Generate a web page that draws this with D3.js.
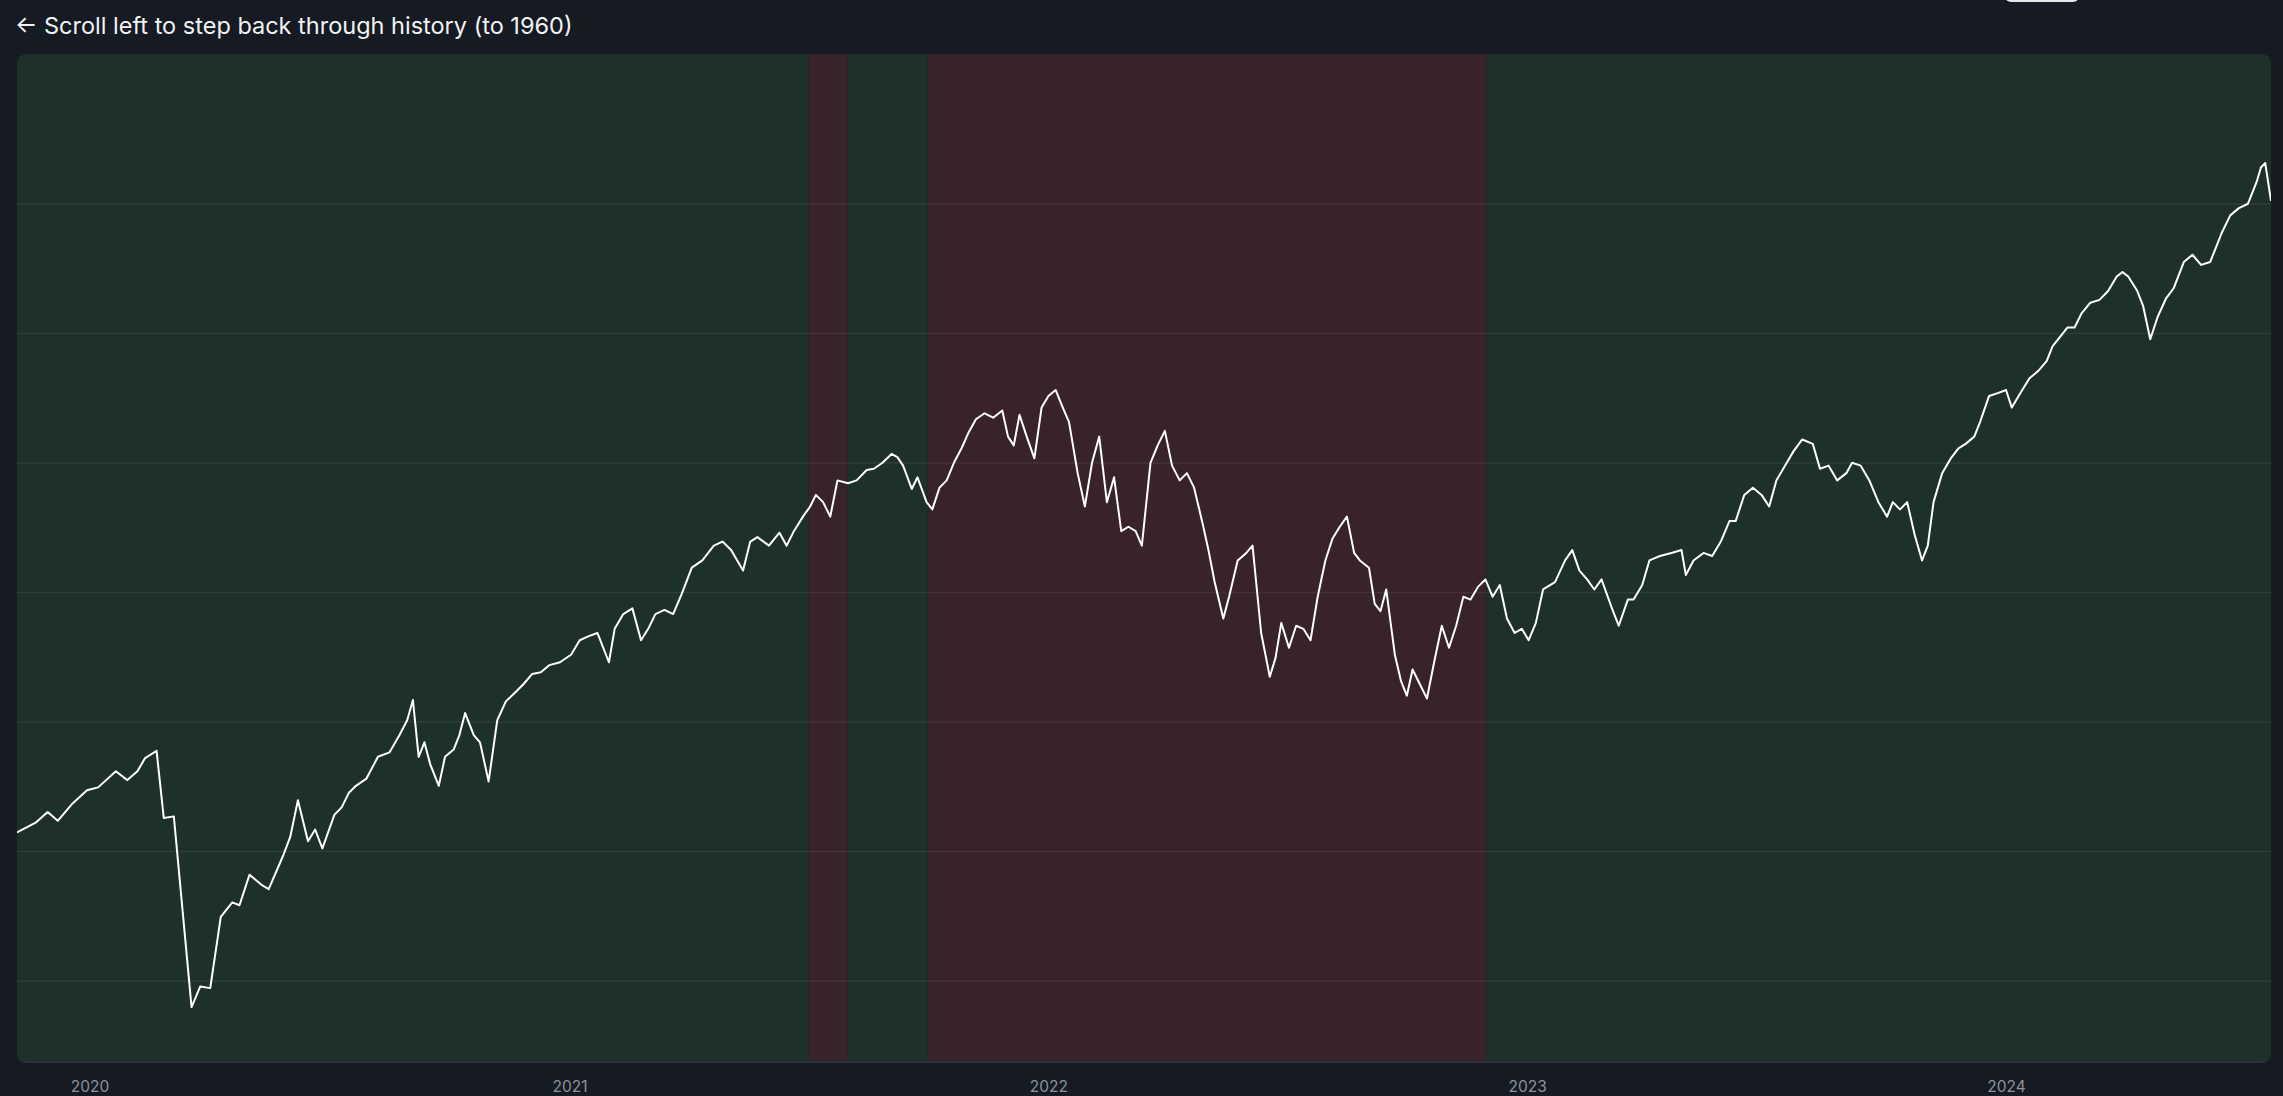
<!DOCTYPE html>
<html>
<head>
<meta charset="utf-8">
<script src="https://cdn.jsdelivr.net/npm/d3@7"></script>
<style>
  html, body { margin: 0; padding: 0; background: #161a22; overflow: hidden; }
  svg { display: block; }
</style>
</head>
<body>
<svg id="chart"></svg>
<script>
// decimal years and index closes
var years = [2019.848,2019.888,2019.912,2019.933,2019.964,2019.994,2020.018,2020.055,2020.079,2020.100,2020.116,2020.140,2020.155,2020.176,2020.213,2020.231,2020.252,2020.274,2020.298,2020.313,2020.334,2020.359,2020.374,2020.404,2020.419,2020.435,2020.456,2020.471,2020.486,2020.511,2020.526,2020.541,2020.556,2020.578,2020.602,2020.626,2020.647,2020.663,2020.675,2020.687,2020.699,2020.711,2020.729,2020.742,2020.760,2020.772,2020.784,2020.802,2020.815,2020.833,2020.851,2020.869,2020.891,2020.906,2020.924,2020.942,2020.960,2020.982,2021.003,2021.021,2021.040,2021.058,2021.082,2021.094,2021.112,2021.131,2021.149,2021.164,2021.179,2021.198,2021.216,2021.234,2021.255,2021.277,2021.301,2021.319,2021.337,2021.362,2021.377,2021.392,2021.416,2021.438,2021.453,2021.468,2021.489,2021.502,2021.514,2021.529,2021.544,2021.559,2021.581,2021.599,2021.620,2021.635,2021.653,2021.672,2021.684,2021.696,2021.714,2021.726,2021.745,2021.757,2021.772,2021.787,2021.802,2021.818,2021.833,2021.848,2021.866,2021.884,2021.903,2021.915,2021.927,2021.939,2021.954,2021.970,2021.985,2022.000,2022.015,2022.030,2022.043,2022.061,2022.076,2022.091,2022.106,2022.122,2022.137,2022.152,2022.167,2022.182,2022.195,2022.213,2022.228,2022.243,2022.258,2022.274,2022.289,2022.304,2022.322,2022.334,2022.347,2022.365,2022.377,2022.395,2022.413,2022.426,2022.444,2022.462,2022.474,2022.486,2022.502,2022.517,2022.532,2022.547,2022.562,2022.578,2022.593,2022.608,2022.623,2022.638,2022.650,2022.669,2022.681,2022.693,2022.705,2022.723,2022.736,2022.748,2022.760,2022.775,2022.790,2022.805,2022.821,2022.836,2022.851,2022.866,2022.881,2022.897,2022.912,2022.927,2022.942,2022.957,2022.973,2022.988,2023.003,2023.018,2023.033,2023.058,2023.079,2023.094,2023.109,2023.125,2023.140,2023.155,2023.179,2023.191,2023.210,2023.222,2023.240,2023.255,2023.277,2023.301,2023.322,2023.331,2023.347,2023.368,2023.386,2023.404,2023.422,2023.435,2023.453,2023.471,2023.489,2023.505,2023.520,2023.538,2023.556,2023.574,2023.596,2023.611,2023.629,2023.647,2023.666,2023.678,2023.696,2023.714,2023.733,2023.751,2023.763,2023.778,2023.793,2023.809,2023.824,2023.836,2023.848,2023.866,2023.884,2023.900,2023.915,2023.933,2023.945,2023.964,2023.982,2024.000,2024.012,2024.030,2024.049,2024.067,2024.085,2024.097,2024.109,2024.128,2024.143,2024.158,2024.176,2024.195,2024.213,2024.231,2024.243,2024.255,2024.274,2024.286,2024.301,2024.316,2024.334,2024.350,2024.371,2024.389,2024.407,2024.426,2024.438,2024.450,2024.468,2024.486,2024.505,2024.523,2024.532,2024.541,2024.553];
var closes = [2574,2613,2653,2619,2686,2737,2748,2810,2776,2810,2861,2889,2630,2636,1900,1979,1973,2248,2304,2293,2411,2372,2355,2484,2557,2698,2540,2585,2512,2642,2670,2726,2754,2782,2866,2883,2950,3007,3085,2866,2922,2838,2754,2866,2894,2950,3035,2950,2922,2771,3007,3080,3119,3147,3186,3192,3220,3231,3260,3316,3332,3344,3231,3360,3417,3439,3316,3360,3417,3433,3417,3495,3596,3624,3681,3697,3664,3585,3697,3714,3681,3731,3681,3737,3799,3832,3877,3849,3793,3933,3922,3933,3973,3978,4001,4035,4023,3990,3900,3945,3849,3821,3905,3933,4001,4057,4119,4169,4192,4175,4203,4102,4068,4186,4102,4018,4214,4259,4282,4214,4158,3961,3832,4001,4102,3849,3945,3737,3754,3737,3681,4001,4068,4124,3990,3933,3961,3905,3765,3664,3540,3400,3484,3624,3653,3681,3344,3175,3248,3383,3287,3372,3360,3316,3484,3624,3709,3754,3793,3653,3624,3596,3456,3428,3512,3260,3158,3102,3203,3147,3091,3231,3372,3287,3372,3484,3473,3523,3551,3484,3529,3400,3344,3360,3316,3383,3512,3540,3624,3664,3585,3551,3512,3551,3428,3372,3473,3473,3529,3624,3641,3653,3664,3568,3624,3653,3641,3697,3776,3776,3877,3905,3877,3832,3933,3990,4046,4091,4074,3978,3990,3933,3961,4001,3990,3933,3849,3793,3849,3821,3849,3720,3624,3681,3849,3961,4018,4057,4074,4102,4158,4259,4270,4282,4214,4270,4327,4355,4394,4450,4478,4523,4523,4579,4619,4630,4664,4720,4737,4720,4664,4607,4478,4562,4636,4675,4776,4804,4765,4776,4832,4888,4956,4984,5001,5085,5141,5158,5012];

// regime bands (green = risk-on, red = risk-off)
var bandStarts = ["2019-11-06","2021-07-02","2021-08-01","2021-10-01","2022-12-01"];
var bandEnds   = ["2021-07-02","2021-08-01","2021-10-01","2022-12-01","2024-07-22"];
var bandRegimes = ["on","off","on","off","on"];

var gridValues = [2000, 2500, 3000, 3500, 4000, 4500, 5000];
var tickYears = [2020, 2021, 2022, 2023, 2024];
var titleText = "\u2190 Scroll left to step back through history (to 1960)";

var W = 2283, H = 1096;
var plot = { left: 17, right: 2271, top: 54, bottom: 1063 };

function yearToDate(yr) {
  var y = Math.floor(yr);
  var start = new Date(y, 0, 1);
  return new Date(start.getTime() + (yr - y) * 365.25 * 864e5);
}

var parse = d3.timeParse("%Y-%m-%d");
var series = years.map(function(yr, i){ return { date: yearToDate(yr), value: closes[i] }; });
var bands = bandStarts.map(function(s, i){ return { start: parse(s), end: parse(bandEnds[i]), regime: bandRegimes[i] }; });

var x = d3.scaleTime()
  .domain([yearToDate(2019.848), yearToDate(2024.553)])
  .range([plot.left, plot.right]);
var y = d3.scaleLinear()
  .domain([1684, 5579])
  .range([plot.bottom, plot.top]);

var svg = d3.select("#chart").attr("width", W).attr("height", H);

svg.append("rect").attr("width", W).attr("height", H).attr("fill", "#161a22");

// partial button at the top edge
svg.append("rect")
  .attr("x", 2005).attr("y", -20).attr("width", 74).attr("height", 22)
  .attr("rx", 6).attr("fill", "#e8e8ea");

svg.append("text")
  .attr("x", 15).attr("y", 34)
  .attr("fill", "#f1f3f5")
  .attr("font-family", "Inter, 'Noto Sans', sans-serif")
  .attr("font-size", 23.5)
  .text(titleText);

var defs = svg.append("defs");
defs.append("clipPath").attr("id", "plotclip")
  .append("rect")
  .attr("x", plot.left).attr("y", plot.top)
  .attr("width", plot.right - plot.left).attr("height", plot.bottom - plot.top)
  .attr("rx", 9);

var g = svg.append("g").attr("clip-path", "url(#plotclip)");

g.selectAll("rect.band")
  .data(bands).enter()
  .append("rect")
  .attr("class", "band")
  .attr("x", d => Math.max(plot.left, x(d.start)))
  .attr("width", d => Math.min(plot.right, x(d.end)) - Math.max(plot.left, x(d.start)))
  .attr("y", plot.top)
  .attr("height", plot.bottom - plot.top)
  .attr("fill", d => d.regime === "on" ? "#1d3029" : "#372329");

g.selectAll("line.grid")
  .data(gridValues).enter()
  .append("line")
  .attr("class", "grid")
  .attr("x1", plot.left).attr("x2", plot.right)
  .attr("y1", d => y(d)).attr("y2", d => y(d))
  .attr("stroke", "#ffffff").attr("stroke-opacity", 0.07)
  .attr("stroke-width", 1.5);

g.append("line")
  .attr("x1", plot.left).attr("x2", plot.right)
  .attr("y1", plot.bottom - 1).attr("y2", plot.bottom - 1)
  .attr("stroke", "#2c3338").attr("stroke-width", 2);

var line = d3.line()
  .x(d => x(d.date))
  .y(d => y(d.value));

g.append("path")
  .datum(series)
  .attr("d", line)
  .attr("fill", "none")
  .attr("stroke", "#ffffff")
  .attr("stroke-width", 2)
  .attr("stroke-linejoin", "round");

var xAxis = d3.axisBottom(x)
  .tickValues(tickYears.map(t => new Date(t, 0, 1)))
  .tickFormat(d3.timeFormat("%Y"))
  .tickSize(0);

var ax = svg.append("g")
  .attr("transform", "translate(0," + (plot.bottom + 15) + ")")
  .call(xAxis);
ax.select(".domain").remove();
ax.selectAll("text")
  .attr("fill", "#8d939c")
  .attr("font-family", "Inter, 'Noto Sans', sans-serif")
  .attr("font-size", 15.5);
</script>
</body>
</html>
